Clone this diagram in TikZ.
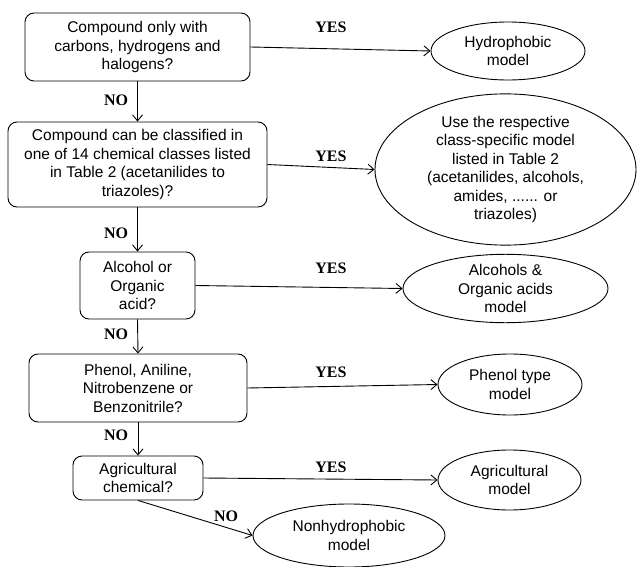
\documentclass[tikz,border=0pt]{standalone}
\usepackage{fontspec}
\setmainfont{Liberation Sans}
\newfontfamily\lblfont{Liberation Serif}
\usetikzlibrary{shapes.geometric,arrows.meta}
\begin{document}
\begin{tikzpicture}[x=1pt,y=-1pt,
  every node/.style={font=\fontsize{15.5}{18.5}\selectfont, align=center, inner sep=0pt},
  qbox/.style={draw, rounded corners=9pt, line width=0.9pt},
  model/.style={draw, ellipse, line width=0.9pt},
  conn/.style={draw, line width=0.9pt, -{Straight Barb[length=6pt,width=10pt]}},
  lbl/.style={font=\lblfont\bfseries\fontsize{16}{18}\selectfont}]
\useasboundingbox (0,0) rectangle (637,567);
% question boxes
\node[qbox, minimum width=225pt, minimum height=68pt] (b1) at (137.5,47) {Compound only with\\carbons, hydrogens and\\halogens?};
\node[qbox, minimum width=259pt, minimum height=85pt] (b2) at (137.5,164.5) {Compound can be classified in\\one of 14 chemical classes listed\\in Table 2 (acetanilides to\\triazoles)?};
\node[qbox, minimum width=115pt, minimum height=67pt] (b3) at (137.5,285.5) {Alcohol or\\Organic\\acid?};
\node[qbox, minimum width=218pt, minimum height=68pt] (b4) at (138,388) {Phenol, Aniline,\\Nitrobenzene or\\Benzonitrile?};
\node[qbox, minimum width=130pt, minimum height=44pt] (b5) at (138,478) {Agricultural\\chemical?};
% model ellipses
\node[model, minimum width=154pt, minimum height=58pt] (e1) at (508,51) {Hydrophobic\\model};
\node[model, minimum width=261pt, minimum height=125pt] (e2) at (505.5,169.5) {Use the respective\\class-specific model\\listed in Table 2\\(acetanilides, alcohols,\\amides, ...... or\\triazoles)};
\node[model, minimum width=205pt, minimum height=61pt] (e3) at (505.5,288.5) {Alcohols \&\\Organic acids\\model};
\node[model, minimum width=144pt, minimum height=61pt] (e4) at (510,384.5) {Phenol type\\model};
\node[model, minimum width=143pt, minimum height=60pt] (e5) at (509.5,480) {Agricultural\\model};
\node[model, minimum width=192pt, minimum height=63pt] (e6) at (349,535.5) {Nonhydrophobic\\model};
% NO connectors
\draw[conn] (b1.south) -- (b2.north);
\draw[conn] (b2.south) -- (b3.north);
\draw[conn] (b3.south) -- (b4.north);
\draw[conn] (b4.south) -- (b5.north);
\draw[conn] (b5.south) -- (e6.west);
% YES connectors
\draw[conn] (b1.east) -- (e1.west);
\draw[conn] (b2.east) -- (e2.west);
\draw[conn] (b3.east) -- (e3.west);
\draw[conn] (b4.east) -- (e4.west);
\draw[conn] (b5.east) -- (e5.west);
% labels
\node[lbl] (y1) at (331,27) {YES};
\node[lbl] (y2) at (331,156) {YES};
\node[lbl] (y3) at (331,268) {YES};
\node[lbl] (y4) at (331,372) {YES};
\node[lbl] (y5) at (331,467) {YES};
\node[lbl] (n1) at (116,100) {NO};
\node[lbl] (n2) at (116,233) {NO};
\node[lbl] (n3) at (116,334) {NO};
\node[lbl] (n4) at (116,435) {NO};
\node[lbl] (n5) at (226,516) {NO};
\end{tikzpicture}
\end{document}
